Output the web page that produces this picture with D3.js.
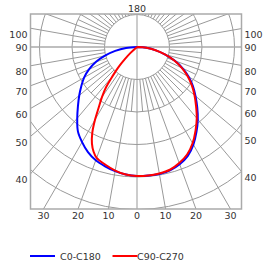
<!DOCTYPE html>
<html><head><meta charset="utf-8">
<script src="https://cdn.jsdelivr.net/npm/d3@7"></script>
<style>body{margin:0;background:#fff}svg{display:block}</style>
</head><body>
<script>
// ---------- data (cd/klm) ----------
const gammaStep5 = [0,5,10,15,20,25,30,35,40,45,50,55,60,65,70,75,80,85,90];
const c0Values   = [397,397,397,393,384,370,347,319,291,262,235,210,184,155,124,90,59,29,0];
const c180Values = [397,394,388,380,371,357,338,317,286,257,232,209,188,163,135,102,68,34,0];
const c90Values  = [397,397,395,391,380,365,342,314,286,257,231,206,180,152,122,89,58,29,0];
const gammaC270  = [0,5,10,15,20,22.5,25,27.5,30,32.5,35,37.5,40,42.5,45,47.5,50];
const c270Values = [397,394,386,375,363,349,328,298,258,218,188,157,117,86,52,28,0];
const seriesNames = ["C0-C180","C90-C270"];
const seriesColors = ["#0000ff","#ff0000"];
const ringValues = [100,200,300,400,500];
const sideLabels = [40,50,60,70,80,90,100];
const bottomLabels = [0,10,20,30];
const topLabel = "180";

// ---------- layout ----------
const W = 275, H = 265;
const box = {x0:30.5, x1:241.5, y0:14, y1:209};
const cx = 137, cy = 47;
const r = d3.scaleLinear().domain([0,500]).range([0,162.5]);
const rad = d => d*Math.PI/180;

const svg = d3.select("body").append("svg").attr("width",W).attr("height",H)
  .style("font-family","'DejaVu Sans', sans-serif").style("font-size","9.5px");

svg.append("defs").append("clipPath").attr("id","clip")
  .append("rect").attr("x",box.x0).attr("y",box.y0)
  .attr("width",box.x1-box.x0).attr("height",box.y1-box.y0);

const grid = svg.append("g").attr("clip-path","url(#clip)");
const gridColor = "#999";
const g0 = grid.append("g").attr("transform",`translate(${cx},${cy})`);

// rings
g0.selectAll("circle").data(ringValues).join("circle")
  .attr("r",d=>r(d)).attr("fill","none").attr("stroke",gridColor).attr("stroke-width",1);

// radial lines (gamma measured from downward direction)
const spokes10 = d3.range(0,360,10).filter(a=>a%90!==0);
const spokes5 = d3.range(5,360,10);
const spoke = (a,r0,r1) => {
  const s=Math.sin(rad(a)), c=Math.cos(rad(a));
  return `M${r0*s},${r0*c}L${r1*s},${r1*c}`;
};
g0.selectAll("path.s10").data(spokes10).join("path").attr("class","s10")
  .attr("d",a=>spoke(a,r(100),400)).attr("stroke",gridColor).attr("stroke-width",1);
g0.selectAll("path.s5").data(spokes5).join("path").attr("class","s5")
  .attr("d",a=>spoke(a,r(100),r(200))).attr("stroke",gridColor).attr("stroke-width",1);

// main axes
grid.append("line").attr("x1",box.x0).attr("x2",box.x1).attr("y1",cy).attr("y2",cy)
  .attr("stroke","#aaa").attr("stroke-width",1.5);
grid.append("line").attr("x1",cx).attr("x2",cx).attr("y1",box.y0).attr("y2",box.y1)
  .attr("stroke","#999").attr("stroke-width",1);

// frame
svg.append("rect").attr("x",box.x0).attr("y",box.y0)
  .attr("width",box.x1-box.x0).attr("height",box.y1-box.y0)
  .attr("fill","none").attr("stroke","#aaa").attr("stroke-width",1.5);

// ---------- curves ----------
function buildPts(leftG,leftV,rightG,rightV){
  const pts=[];
  for(let i=leftG.length-1;i>=0;i--) pts.push([Math.PI+rad(leftG[i]), r(leftV[i])]);
  for(let i=1;i<rightG.length;i++) pts.push([Math.PI-rad(rightG[i]), r(rightV[i])]);
  return pts;
}
const line = d3.lineRadial().angle(d=>d[0]).radius(d=>d[1]).curve(d3.curveCatmullRom.alpha(0.5));
const curves = [
  buildPts(gammaStep5,c180Values,gammaStep5,c0Values),
  buildPts(gammaC270,c270Values,gammaStep5,c90Values)
];
const gc = svg.append("g").attr("transform",`translate(${cx},${cy})`);
curves.forEach((pts,i)=>{
  gc.append("path").attr("d",line(pts)).attr("fill","none")
    .attr("stroke",seriesColors[i]).attr("stroke-width",2);
});

// ---------- angle labels ----------
const txtColor = "#333";
svg.append("text").attr("x",cx).attr("y",12).attr("text-anchor","middle").attr("fill",txtColor).text(topLabel);
bottomLabels.forEach(a=>{
  const dx=(box.y1-cy)*Math.tan(rad(a));
  const xs = a===0?[cx]:[cx-dx,cx+dx];
  xs.forEach(x=>svg.append("text").attr("x",x).attr("y",219).attr("text-anchor","middle").attr("fill",txtColor).text(a));
});
sideLabels.forEach(a=>{
  [[box.x0,-1],[box.x1,1]].forEach(([bx,sgn])=>{
    const dx=Math.abs(bx-cx);
    const y = cy + dx/Math.tan(rad(a)) + (a===90?0:6);
    svg.append("text").attr("x",bx+sgn*3).attr("y",y+3.5)
      .attr("text-anchor",sgn<0?"end":"start").attr("fill",txtColor).text(a);
  });
});

// ---------- legend ----------
const legX=[30,112.5];
seriesNames.forEach((n,i)=>{
  svg.append("line").attr("x1",legX[i]).attr("x2",legX[i]+25).attr("y1",256).attr("y2",256)
    .attr("stroke",seriesColors[i]).attr("stroke-width",2);
  svg.append("text").attr("x",legX[i]+(i===0?30:24.5)).attr("y",259.5).attr("fill",txtColor).text(n);
});
</script>
</body></html>
